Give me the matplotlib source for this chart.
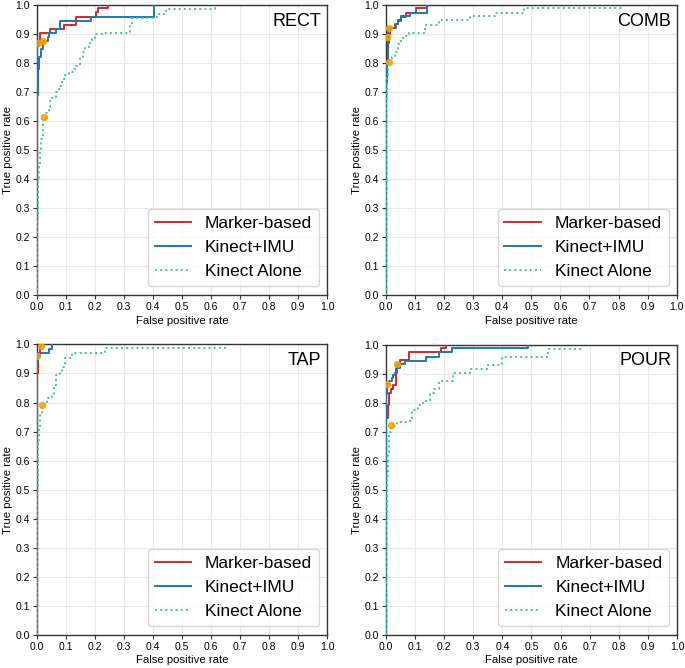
import numpy as np
from matplotlib import pyplot as plt

plt.rcParams['font.family'] = ['Liberation Sans', 'DejaVu Sans']

names = ['RECT', 'COMB', 'TAP', 'POUR']
labels = ['Marker-based', 'Kinect+IMU', 'Kinect Alone']

# ROC corner points (fpr, tpr)
rect_marker_fpr = [0, 0, 0.003, 0.011, 0.046, 0.092, 0.134, 0.203, 0.21, 0.245]
rect_marker_tpr = [0, 0.86, 0.87, 0.905, 0.918, 0.932, 0.96, 0.977, 0.99, 1.0]
rect_imu_fpr = [0, 0, 0.002, 0.007, 0.013, 0.019, 0.037, 0.043, 0.066, 0.081, 0.186, 0.402]
rect_imu_tpr = [0, 0.69, 0.779, 0.822, 0.848, 0.877, 0.89, 0.906, 0.918, 0.946, 0.96, 1.0]
rect_kin_fpr = [0, 0, 0.003, 0.005, 0.008, 0.012, 0.015, 0.019, 0.022, 0.03, 0.04, 0.045,
                0.052, 0.065, 0.075, 0.085, 0.092, 0.11, 0.126, 0.135, 0.149, 0.158, 0.167,
                0.18, 0.19, 0.2, 0.228, 0.322, 0.328, 0.408, 0.42, 0.446, 0.608, 0.613]
rect_kin_tpr = [0, 0.27, 0.33, 0.4, 0.45, 0.5, 0.54, 0.58, 0.61, 0.63, 0.65, 0.67,
                0.68, 0.7, 0.72, 0.74, 0.76, 0.77, 0.78, 0.79, 0.82, 0.84, 0.857,
                0.87, 0.882, 0.9, 0.905, 0.932, 0.955, 0.96, 0.97, 0.988, 0.988, 1.0]

comb_marker_fpr = [0, 0, 0.004, 0.008, 0.012, 0.015, 0.03, 0.04, 0.05, 0.07, 0.103, 0.14]
comb_marker_tpr = [0, 0.73, 0.8, 0.87, 0.9, 0.92, 0.935, 0.95, 0.96, 0.975, 0.99, 1.0]
comb_imu_fpr = [0, 0, 0.006, 0.01, 0.035, 0.043, 0.05, 0.083, 0.14]
comb_imu_tpr = [0, 0.8, 0.91, 0.92, 0.935, 0.945, 0.962, 0.973, 1.0]
comb_kin_fpr = [0, 0, 0.003, 0.008, 0.011, 0.02, 0.031, 0.042, 0.05, 0.06, 0.08, 0.134,
                0.183, 0.289, 0.375, 0.476, 0.82]
comb_kin_tpr = [0, 0.67, 0.75, 0.8, 0.81, 0.82, 0.84, 0.868, 0.877, 0.893, 0.906, 0.933,
                0.948, 0.962, 0.975, 0.99, 0.99]

tap_marker_fpr = [0, 0, 0.002, 0.005, 0.01, 0.012]
tap_marker_tpr = [0, 0.9, 0.95, 0.97, 0.99, 1.0]
tap_imu_fpr = [0, 0, 0.004, 0.01, 0.042, 0.052]
tap_imu_tpr = [0, 0.94, 0.96, 0.97, 0.985, 1.0]
tap_kin_fpr = [0, 0, 0.003, 0.005, 0.008, 0.012, 0.018, 0.025, 0.033, 0.052, 0.059, 0.066,
               0.079, 0.086, 0.097, 0.12, 0.234, 0.66]
tap_kin_tpr = [0, 0.5, 0.6, 0.67, 0.72, 0.76, 0.79, 0.8, 0.814, 0.826, 0.854, 0.894,
               0.906, 0.923, 0.954, 0.969, 0.986, 0.986]

pour_marker_fpr = [0, 0, 0.006, 0.012, 0.018, 0.025, 0.035, 0.04, 0.049, 0.081, 0.19, 0.206]
pour_marker_tpr = [0, 0.75, 0.793, 0.835, 0.85, 0.862, 0.92, 0.935, 0.948, 0.975, 0.989, 1.0]
pour_imu_fpr = [0, 0, 0.004, 0.01, 0.02, 0.025, 0.03, 0.038, 0.05, 0.066, 0.138, 0.181,
                0.227, 0.487]
pour_imu_tpr = [0, 0.83, 0.865, 0.875, 0.885, 0.895, 0.905, 0.92, 0.935, 0.945, 0.96, 0.975,
                0.989, 1.0]
pour_kin_fpr = [0, 0, 0.002, 0.004, 0.006, 0.01, 0.018, 0.038, 0.072, 0.089, 0.112, 0.129,
                0.152, 0.165, 0.181, 0.23, 0.289, 0.352, 0.398, 0.556, 0.673]
pour_kin_tpr = [0, 0.27, 0.4, 0.55, 0.63, 0.7, 0.72, 0.733, 0.737, 0.776, 0.793, 0.807,
                0.833, 0.85, 0.876, 0.902, 0.917, 0.931, 0.96, 0.986, 0.99]

# operating points (orange dots)
rect_op_fpr = [0.003, 0.02, 0.025]
rect_op_tpr = [0.87, 0.877, 0.613]
comb_op_fpr = [0.005, 0.012, 0.012]
comb_op_tpr = [0.89, 0.92, 0.805]
tap_op_fpr = [0.014, 0.0, 0.018]
tap_op_tpr = [0.994, 0.96, 0.791]
pour_op_fpr = [0.038, 0.004, 0.018]
pour_op_tpr = [0.933, 0.865, 0.724]

curves = [
    [(rect_marker_fpr, rect_marker_tpr), (rect_imu_fpr, rect_imu_tpr), (rect_kin_fpr, rect_kin_tpr)],
    [(comb_marker_fpr, comb_marker_tpr), (comb_imu_fpr, comb_imu_tpr), (comb_kin_fpr, comb_kin_tpr)],
    [(tap_marker_fpr, tap_marker_tpr), (tap_imu_fpr, tap_imu_tpr), (tap_kin_fpr, tap_kin_tpr)],
    [(pour_marker_fpr, pour_marker_tpr), (pour_imu_fpr, pour_imu_tpr), (pour_kin_fpr, pour_kin_tpr)],
]
ops = [(rect_op_fpr, rect_op_tpr), (comb_op_fpr, comb_op_tpr),
       (tap_op_fpr, tap_op_tpr), (pour_op_fpr, pour_op_tpr)]

colors = ['#d62728', '#1f77b4', '#3ec49a']
styles = ['-', '-', ':']

fig = plt.figure(figsize=(6.85, 6.68), dpi=100)
positions = [[0.054, 0.558, 0.4234, 0.4341], [0.5635, 0.558, 0.4244, 0.4341],
             [0.054, 0.0494, 0.4234, 0.4350], [0.5632, 0.0494, 0.4253, 0.4341]]

ticks = np.arange(0, 1.01, 0.1)
for i in range(4):
    ax = fig.add_axes(positions[i])
    for j in range(3):
        x, y = curves[i][j]
        ax.plot(x, y, drawstyle='steps-post', color=colors[j], ls=styles[j],
                lw=1.4, label=labels[j], zorder=3)
    ax.plot(ops[i][0], ops[i][1], 'o', color='#f5a000', ms=4.3, alpha=0.85, zorder=4)
    ax.set_xlim(0, 1)
    ax.set_ylim(0, 1)
    ax.set_xticks(ticks)
    ax.set_yticks(ticks)
    ax.set_xticklabels(['%.1f' % t for t in ticks])
    ax.set_yticklabels(['%.1f' % t for t in ticks])
    ax.tick_params(labelsize=7.5, length=3, width=0.8, color='#333333', pad=2)
    ax.grid(True, color='#e8e8e8', lw=0.8)
    ax.set_axisbelow(True)
    for s in ax.spines.values():
        s.set_color('#333333')
        s.set_linewidth(1.0)
    ax.set_xlabel('False positive rate', fontsize=8.2, labelpad=2.5)
    ax.set_ylabel('True positive rate', fontsize=8.2, labelpad=1.5)
    ax.text(0.98, 0.975, names[i], transform=ax.transAxes, ha='right', va='top',
            fontsize=13)
    ax.legend(loc='lower right', bbox_to_anchor=(0.973, 0.031), borderaxespad=0,
              fontsize=12.5, labelspacing=0.52, handlelength=2.1,
              fancybox=True, framealpha=0.8, edgecolor='#cccccc')

plt.savefig('out.png', dpi=100)
